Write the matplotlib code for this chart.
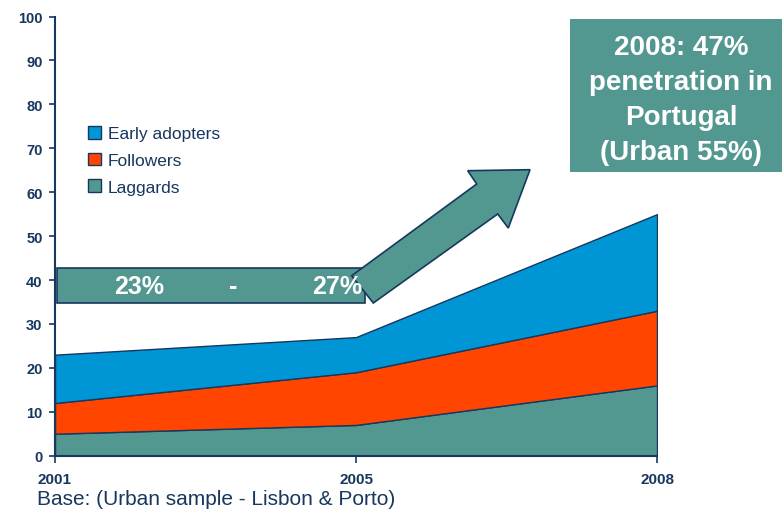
import matplotlib
matplotlib.use("Agg")
import matplotlib.pyplot as plt
from matplotlib.patches import Polygon, Rectangle, Patch

plt.rcParams['font.family'] = ['Liberation Sans', 'DejaVu Sans']

years = ["2001", "2005", "2008"]
laggards = [5, 7, 16]
followers = [7, 12, 17]
early_adopters = [11, 8, 22]
series_names = ["Early adopters", "Followers", "Laggards"]

NAVY = "#17375E"
BLUE = "#0096D6"
ORANGE = "#FF4500"
TEAL = "#529890"

W, H = 782, 510
fig = plt.figure(figsize=(W / 100, H / 100), dpi=100)
ax = fig.add_axes([55 / W, 1 - 456.7 / H, (657 - 55) / W, (456.7 - 17.5) / H])

x = list(range(len(years)))
ax.stackplot(x, laggards, followers, early_adopters,
             colors=[TEAL, ORANGE, BLUE], edgecolor=NAVY, linewidth=1.0)

ax.set_xlim(0, len(years) - 1)
ax.set_ylim(0, 100)
ax.set_yticks(range(0, 101, 10))
ax.set_xticks(x)
ax.set_xticklabels(years)
for s in ["top", "right"]:
    ax.spines[s].set_visible(False)
for s in ["left", "bottom"]:
    ax.spines[s].set_color(NAVY)
    ax.spines[s].set_linewidth(1.5)
ax.tick_params(axis="y", direction="out", length=4, width=1.2, color=NAVY,
               labelcolor=NAVY, labelsize=10.5, pad=5)
ax.tick_params(axis="x", direction="out", length=5, width=1.2, color=NAVY,
               labelcolor=NAVY, labelsize=11, pad=7)
for lab in ax.get_xticklabels() + ax.get_yticklabels():
    lab.set_fontweight("bold")
ax.set_facecolor("none")

# legend
handles = [Patch(facecolor=c, edgecolor=NAVY, linewidth=1.0)
           for c in [BLUE, ORANGE, TEAL]]
fig.legend(handles, series_names, loc="upper left",
           bbox_to_anchor=(81 / W, 1 - 120 / H), frameon=False,
           fontsize=12.5, labelcolor=NAVY, handlelength=0.75, handleheight=0.75,
           handletextpad=0.4, labelspacing=0.65, borderaxespad=0)

def px(pts):
    return [(a / W, 1 - b / H) for a, b in pts]

# box 23% - 27%
fig.patches.append(Rectangle((57 / W, 1 - 304 / H), (365 - 57) / W, 35 / H,
                             transform=fig.transFigure, facecolor=TEAL,
                             edgecolor=NAVY, linewidth=1.2, zorder=3))
# arrow
arrow = [(351.7, 276.7), (476.7, 185), (467.7, 171.7), (530, 170.7),
         (508.3, 229), (497.7, 215), (373.3, 304)]
fig.patches.append(Polygon(px(arrow), closed=True, transform=fig.transFigure,
                           facecolor=TEAL, edgecolor=NAVY, linewidth=1.2,
                           zorder=4))
for txt, cx in [("23%", 139), ("-", 233), ("27%", 337)]:
    fig.text(cx / W, 1 - 287 / H, txt, color="white", fontsize=18,
             fontweight="bold", ha="center", va="center", zorder=5)

# top-right note
fig.patches.append(Rectangle((570 / W, 1 - 173 / H), (782 - 570) / W, (173 - 20) / H,
                             transform=fig.transFigure, facecolor=TEAL,
                             edgecolor="none", zorder=3))
fig.text(681 / W, 1 - 101 / H,
         "2008: 47%\npenetration in\nPortugal\n(Urban 55%)",
         color="white", fontsize=20, fontweight="bold", ha="center",
         va="center", linespacing=1.45, zorder=5)

fig.text(37 / W, 1 - 500 / H, "Base: (Urban sample - Lisbon & Porto)",
         color=NAVY, fontsize=15, ha="left", va="center")

fig.savefig("out.png", dpi=100)
